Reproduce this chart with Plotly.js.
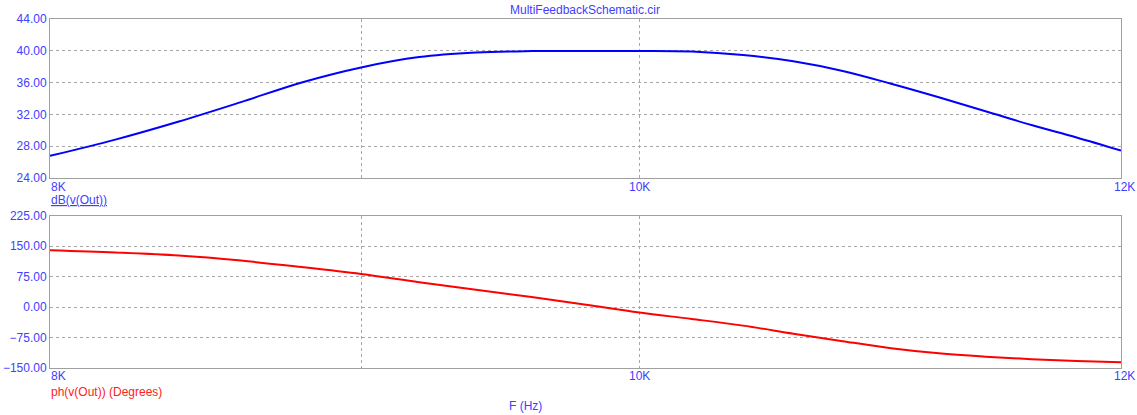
<!DOCTYPE html>
<html>
<head>
<meta charset="utf-8">
<script src="https://cdn.plot.ly/plotly-3.0.1.min.js"></script>
<style>
html,body{margin:0;padding:0;background:#fff;}
#chart{width:1137px;height:415px;}
</style>
</head>
<body>
<div id="chart"></div>
<script>
// Data
const freqHz = [8000, 8200, 8400, 8600, 8800, 9000, 9200, 9400, 9600, 9800, 10000,
                10200, 10400, 10600, 10800, 11000, 11200, 11400, 11600, 11800, 12000];
const magDb = [26.78, 28.83, 31.11, 33.55, 36.02, 37.91, 39.21, 39.78, 39.96, 39.99, 39.98,
               39.90, 39.46, 38.68, 37.46, 35.85, 34.15, 32.40, 30.66, 29.10, 27.45];
const phaseDeg = [139.6, 134.1, 126.6, 114.1, 98.1, 81.0, 61.0, 42.5, 24.5, 5.5, -13.6,
                  -29.4, -45.8, -65.5, -84.0, -101.2, -113.8, -122.1, -128.4, -132.6, -136.0];
const xTickVals = [8000, 10000, 12000];
const xTickText = ['8K', '10K', '12K'];
const xGridVals = [9000, 10000];
const magTicks = [24, 28, 32, 36, 40, 44];
const phaseTicks = [-150, -75, 0, 75, 150, 225];

const W = 1137, H = 415;
const px = v => v / W;
const py = v => 1 - v / H;
const FONT = 'Liberation Sans, Arial, sans-serif';
const BLUE_TXT = '#4040ff';
const RED_TXT = '#ff2020';

const xLeft = 50, xRight = 1121;
const xRange = [Math.log10(xTickVals[0]), Math.log10(xTickVals[xTickVals.length - 1])];

const commonX = {
  type: 'log',
  range: xRange,
  tickvals: xGridVals,
  showticklabels: false,
  ticks: '',
  showgrid: true,
  gridcolor: '#a8a8a8',
  griddash: '3px,3px',
  gridwidth: 1,
  showline: true,
  linecolor: '#a0a0a0',
  linewidth: 1,
  mirror: true,
  zeroline: false,
  domain: [px(xLeft), px(xRight)],
  fixedrange: true
};

const commonY = {
  tickformat: '.2f',
  ticks: '',
  showgrid: true,
  gridcolor: '#a8a8a8',
  griddash: '3px,3px',
  gridwidth: 1,
  showline: true,
  linecolor: '#a0a0a0',
  linewidth: 1,
  mirror: true,
  zeroline: false,
  tickfont: {family: FONT, size: 12, color: BLUE_TXT},
  fixedrange: true
};

const traces = [
  {
    x: freqHz, y: magDb, xaxis: 'x', yaxis: 'y',
    type: 'scatter', mode: 'lines',
    line: {color: '#0000ff', width: 2, shape: 'spline', smoothing: 1},
    hoverinfo: 'skip'
  },
  {
    x: freqHz, y: phaseDeg, xaxis: 'x2', yaxis: 'y2',
    type: 'scatter', mode: 'lines',
    line: {color: '#ff0000', width: 2, shape: 'spline', smoothing: 1},
    hoverinfo: 'skip'
  }
];

const annotations = [];
const anchors = ['left', 'center', 'center'];
const shifts = [-1, 0, 3];
xTickVals.forEach((v, i) => {
  annotations.push({
    x: Math.log10(v), xref: 'x', y: py(186.5), yref: 'paper',
    text: xTickText[i], showarrow: false, xanchor: anchors[i], yanchor: 'middle',
    xshift: shifts[i],
    font: {family: FONT, size: 12, color: BLUE_TXT}
  });
  annotations.push({
    x: Math.log10(v), xref: 'x2', y: py(376), yref: 'paper',
    text: xTickText[i], showarrow: false, xanchor: anchors[i], yanchor: 'middle',
    xshift: shifts[i],
    font: {family: FONT, size: 12, color: BLUE_TXT}
  });
});
annotations.push({
  x: px(49), xref: 'paper', y: py(200.5), yref: 'paper',
  text: '<u>dB(v(Out))</u>', showarrow: false, xanchor: 'left', yanchor: 'middle',
  font: {family: FONT, size: 12, color: BLUE_TXT}
});
annotations.push({
  x: px(49), xref: 'paper', y: py(391.5), yref: 'paper',
  text: 'ph(v(Out)) (Degrees)', showarrow: false, xanchor: 'left', yanchor: 'middle',
  font: {family: FONT, size: 12, color: RED_TXT}
});
annotations.push({
  x: px(525.5), xref: 'paper', y: py(406), yref: 'paper',
  text: 'F (Hz)', showarrow: false, xanchor: 'center', yanchor: 'middle',
  font: {family: FONT, size: 12, color: BLUE_TXT}
});

const layout = {
  width: W, height: H,
  margin: {l: 0, r: 0, t: 0, b: 0},
  paper_bgcolor: '#ffffff',
  plot_bgcolor: '#ffffff',
  showlegend: false,
  hovermode: false,
  title: {
    text: 'MultiFeedbackSchematic.cir',
    x: px(585), xanchor: 'center', y: py(10), yanchor: 'middle',
    font: {family: FONT, size: 12, color: BLUE_TXT}
  },
  xaxis: Object.assign({}, commonX, {anchor: 'y'}),
  xaxis2: Object.assign({}, commonX, {anchor: 'y2'}),
  yaxis: Object.assign({}, commonY, {
    range: [magTicks[0], magTicks[magTicks.length - 1]],
    tickvals: magTicks,
    domain: [py(178), py(19)],
    anchor: 'x'
  }),
  yaxis2: Object.assign({}, commonY, {
    range: [phaseTicks[0], phaseTicks[phaseTicks.length - 1]],
    tickvals: phaseTicks,
    domain: [py(368), py(215.5)],
    anchor: 'x2'
  }),
  annotations: annotations
};

Plotly.newPlot('chart', traces, layout, {displayModeBar: false, staticPlot: true});
</script>
</body>
</html>
